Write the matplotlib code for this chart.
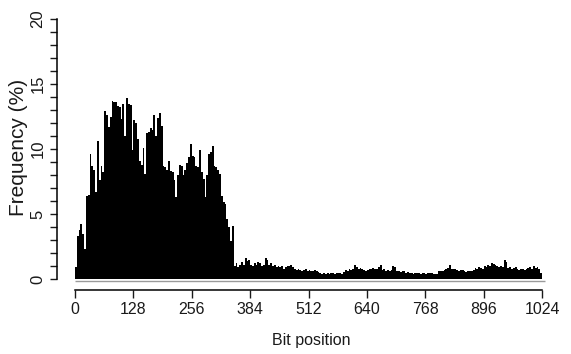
import numpy as np
import matplotlib
matplotlib.use("Agg")
import matplotlib.pyplot as plt
from matplotlib.ticker import MultipleLocator, FixedLocator

# frequency (%) per block of 4 bit positions
# bits 0-347: the high plateau
freq_head = [
    0.9, 3.3, 3.8, 4.2, 3.5, 2.3, 6.4, 6.5, 9.6, 8.7, 8.4, 6.7, 10.6, 7.6, 8.7, 8.2,
    12.9, 12.6, 11.7, 12.5, 13.7, 13.6, 13.6, 13.3, 13.2, 12.3, 13.5, 11.0, 13.9, 13.5, 13.4, 9.9,
    12.2, 12.0, 10.8, 9.1, 8.8, 10.1, 8.1, 11.2, 11.3, 11.6, 11.5, 12.6, 11.0, 12.4, 12.8, 11.8,
    8.7, 8.6, 8.4, 9.1, 8.3, 8.2, 7.6, 6.3, 8.0, 8.8, 8.7, 8.0, 8.4, 8.9, 9.4, 10.4,
    9.5, 9.4, 8.7, 8.6, 9.9, 8.2, 7.7, 6.3, 8.0, 9.6, 9.8, 10.2, 8.7, 8.6, 8.4, 8.1,
    6.4, 5.9, 5.8, 4.6, 4.0, 2.9, 4.1,
]
# bits 348-1023: the low tail
freq_tail = [
    1.0, 1.2, 0.9, 1.1, 1.3, 1.1, 1.6, 1.4, 1.5,
    1.1, 1.0, 1.2, 1.1, 1.3, 1.2, 1.0, 1.1, 1.6, 1.5,
    1.1, 1.2, 1.0, 1.1, 0.9, 1.0, 0.9, 1.0, 0.8, 0.9, 1.0,
    1.0, 1.05, 0.9, 0.8,
    0.7, 0.8, 0.7, 0.6, 0.7, 0.75, 0.6, 0.7, 0.65, 0.6, 0.7, 0.6, 0.55,
    0.45, 0.4, 0.5, 0.35, 0.45, 0.4, 0.5, 0.45, 0.4, 0.5,
    0.45, 0.5, 0.4, 0.55, 0.7, 0.65, 0.75, 0.7, 0.8, 1.05, 0.95,
    0.8, 0.85, 0.75, 0.7, 0.65, 0.7, 0.75, 0.8, 0.85, 0.75, 0.8, 0.9, 1.1,
    0.7, 0.75, 0.65, 0.7, 0.6, 0.7, 1.0, 0.9,
    0.6, 0.65, 0.55, 0.6, 0.6, 0.5, 0.55,
    0.45, 0.5, 0.4, 0.45, 0.5, 0.45, 0.4, 0.5, 0.45, 0.4, 0.45, 0.5, 0.45, 0.4,
    0.35, 0.35, 0.6, 0.65, 0.6, 0.7,
    0.8, 0.85, 1.05, 0.8, 0.75, 0.8, 0.7, 0.65, 0.7, 0.7,
    0.6, 0.55, 0.6, 0.65, 0.6, 0.7, 0.85, 0.8, 0.9, 0.85, 0.8,
    1.0, 0.95, 1.05, 1.0, 1.2, 1.15, 1.1, 1.0, 0.95, 1.0, 0.9, 1.5, 1.3,
    0.85, 0.9, 0.8, 0.85, 0.9, 0.75, 0.7, 0.8, 0.75, 0.7, 0.75,
    0.85, 0.9, 0.8, 1.0, 0.85, 0.9, 0.8, 0.5,
]
freq = np.array(freq_head + freq_tail)
edges = np.arange(0, 1025, 4)

x_ticks = [0, 128, 256, 384, 512, 640, 768, 896, 1024]
y_ticks = [0, 5, 10, 15, 20]

fig = plt.figure(figsize=(5.71, 3.54), dpi=100)
ax = fig.add_axes([0.125, 0.2008, 0.8307, 0.7455])

ax.stairs(freq, edges, fill=True, color="black", linewidth=0)
# grey baseline under the bars
ax.plot([0, 1030], [-0.18, -0.18], color="#9a9a9a", lw=1.0, solid_capstyle="butt")

ax.set_xlim(-8, 1032)
ax.set_ylim(-0.3, 20)

for s in ["top", "right"]:
    ax.spines[s].set_visible(False)
ax.spines["left"].set_bounds(0, 20)
ax.spines["bottom"].set_bounds(0, 1024)
ax.spines["left"].set_position(("outward", 10.3))
ax.spines["bottom"].set_position(("outward", 4.8))
for s in ["left", "bottom"]:
    ax.spines[s].set_linewidth(1.1)

ax.xaxis.set_major_locator(FixedLocator(x_ticks))
ax.yaxis.set_major_locator(FixedLocator(y_ticks))
ax.yaxis.set_minor_locator(MultipleLocator(1))
ax.tick_params(axis="x", length=5.5, width=1, pad=3.5, colors="#1a1a1a")
ax.tick_params(axis="y", which="both", length=5, width=1, pad=3.5, colors="#1a1a1a")

ax.set_xticklabels([str(t) for t in x_ticks], family=["Liberation Sans Narrow", "Liberation Sans"],
                   fontsize=11.5)
ax.set_yticklabels([str(t) for t in y_ticks], family="Liberation Sans", fontsize=12,
                   rotation=90, va="center")

fig.text(19 / 571, 1 - 147 / 354, "Frequency (%)", rotation=90, ha="center", va="center",
         family="Liberation Sans", fontsize=15, color="#1a1a1a")
fig.text(311 / 571, 1 - 341 / 354, "Bit position", ha="center", va="center",
         family=["Liberation Sans Narrow", "Liberation Sans"], fontsize=11.5, color="#1a1a1a")

plt.savefig("out.png", dpi=100)
